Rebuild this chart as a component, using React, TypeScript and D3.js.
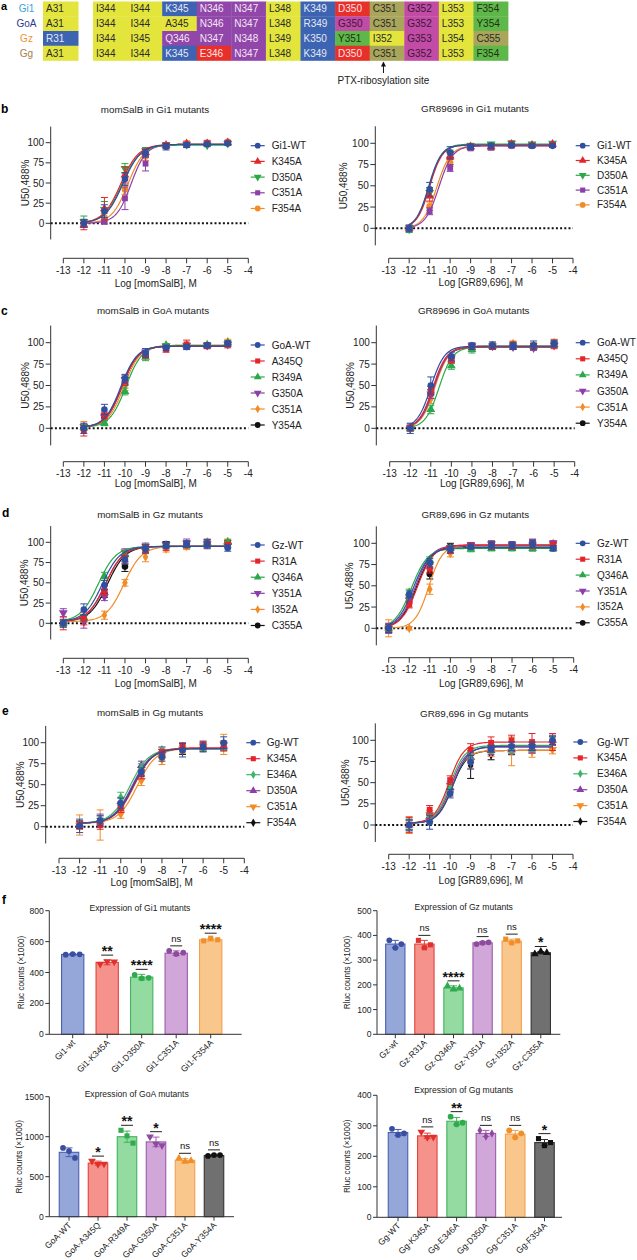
import React from 'react';
import * as d3 from 'd3';

const FONT = '"Liberation Sans", Arial, Helvetica, sans-serif';

// ---------------- Panel a: sequence alignment ----------------
const alignLabels = ['Gi1', 'GoA', 'Gz', 'Gg'];
const alignSite31 = ['A31', 'A31', 'R31', 'A31'];
const alignGi1 = ['I344', 'I344', 'K345', 'N346', 'N347', 'L348', 'K349', 'D350', 'C351', 'G352', 'L353', 'F354'];
const alignGoA = ['I344', 'I344', 'A345', 'N346', 'N347', 'L348', 'R349', 'G350', 'C351', 'G352', 'L353', 'Y354'];
const alignGz = ['I344', 'I345', 'Q346', 'N347', 'N348', 'L349', 'K350', 'Y351', 'I352', 'G353', 'L354', 'C355'];
const alignGg = ['I344', 'I344', 'K345', 'E346', 'N347', 'L348', 'K349', 'D350', 'C351', 'G352', 'L353', 'F354'];
const ptxColumn = 8;

// ---------------- Dose–response data ----------------
const dose8 = [-12, -11, -10, -9, -8, -7, -6, -5];
const dose9 = [-13, -12, -11, -10, -9, -8, -7, -6, -5];
const doseTicks = [-13, -12, -11, -10, -9, -8, -7, -6, -5, -4];
const pctTicks = [0, 25, 50, 75, 100];

// b left: momSalB in Gi1
const gi1Names = ['Gi1-WT', 'K345A', 'D350A', 'C351A', 'F354A'];
const bL_vals = [
  [0, 15, 55, 87, 95, 97, 98, 99],
  [-2, 18, 60, 88, 97, 99, 99, 100],
  [2, 17, 68, 90, 97, 98, 97, 99],
  [0, 2, 31, 74, 96, 97, 99, 100],
  [0, 7, 42, 83, 96, 98, 100, 101],
];
const bL_err = [
  [5, 8, 8, 5, 4, 3, 2, 2],
  [6, 14, 10, 4, 3, 3, 3, 2],
  [7, 10, 6, 4, 3, 2, 2, 2],
  [4, 3, 14, 9, 3, 2, 3, 2],
  [3, 5, 6, 5, 3, 2, 3, 2],
];
const bL_ec50 = [-10.1, -10.2, -10.15, -9.7, -9.85];
const bL_top = [98, 98, 97, 98, 98];
const bL_bottom = [0, 0, 0, 0, 0];
const bL_hill = [1.0, 1.0, 1.0, 1.2, 1.1];

// b right: GR89696 in Gi1
const bR_vals = [
  [0, 46, 89, 96, 97, 98, 97, 97],
  [0, 38, 85, 96, 96, 99, 98, 99],
  [-1, 42, 88, 97, 99, 100, 99, 100],
  [0, 20, 71, 94, 95, 97, 97, 98],
  [0, 26, 77, 95, 96, 97, 98, 98],
];
const bR_err = [
  [4, 8, 7, 3, 3, 2, 2, 2],
  [3, 6, 4, 3, 3, 3, 2, 2],
  [4, 6, 4, 3, 2, 3, 2, 2],
  [3, 4, 4, 2, 3, 2, 2, 2],
  [3, 5, 4, 2, 2, 2, 2, 2],
];
const bR_ec50 = [-11.05, -11.0, -11.02, -10.55, -10.65];
const bR_top = [98, 98, 99, 97, 97];
const bR_bottom = [0, 0, 0, 0, 0];
const bR_hill = [1.4, 1.4, 1.4, 1.3, 1.3];

// c: GoA
const goaNames = ['GoA-WT', 'A345Q', 'R349A', 'G350A', 'C351A', 'Y354A'];
const cL_vals = [
  [0, 22, 58, 88, 94, 95, 97, 99],
  [-3, 15, 55, 86, 92, 98, 96, 98],
  [1, 6, 43, 83, 97, 97, 97, 100],
  [2, 13, 57, 89, 96, 97, 97, 98],
  [3, 10, 49, 86, 97, 97, 98, 101],
  [1, 13, 55, 87, 95, 96, 96, 98],
];
const cL_err = [
  [6, 6, 5, 5, 3, 3, 3, 3],
  [6, 4, 5, 4, 3, 5, 3, 4],
  [3, 3, 4, 4, 2, 2, 2, 2],
  [3, 4, 5, 4, 2, 2, 2, 2],
  [5, 4, 5, 4, 2, 2, 2, 3],
  [3, 4, 4, 3, 2, 2, 2, 2],
];
const cL_ec50 = [-10.2, -10.15, -9.95, -10.15, -10.05, -10.15];
const cL_top = [96, 96, 97, 96, 97, 96];
const cL_bottom = [1, 1, 1, 1, 1, 1];
const cL_hill = [1.1, 1.1, 1.1, 1.1, 1.1, 1.1];

const cR_vals = [
  [0, 50, 84, 96, 97, 96, 97, 99],
  [1, 44, 80, 95, 95, 97, 96, 98],
  [0, 22, 73, 92, 96, 97, 96, 98],
  [0, 40, 82, 96, 96, 95, 94, 97],
  [0, 34, 80, 96, 97, 99, 97, 100],
  [0, 40, 82, 95, 96, 96, 96, 98],
];
const cR_err = [
  [6, 10, 5, 4, 4, 4, 5, 4],
  [4, 5, 4, 3, 3, 4, 3, 5],
  [3, 5, 4, 4, 3, 3, 3, 3],
  [3, 5, 4, 3, 3, 3, 3, 3],
  [3, 5, 4, 3, 3, 3, 3, 4],
  [3, 5, 4, 3, 3, 3, 3, 3],
];
const cR_ec50 = [-11.0, -10.9, -10.6, -10.85, -10.8, -10.85];
const cR_top = [96, 95, 95, 95, 96, 95];
const cR_bottom = [0, 0, 0, 0, 0, 0];
const cR_hill = [1.3, 1.3, 1.3, 1.3, 1.3, 1.3];

// d: Gz
const gzNames = ['Gz-WT', 'R31A', 'Q346A', 'Y351A', 'I352A', 'C355A'];
const dL_vals = [
  [0, 17, 47, 78, 92, 96, 98, 98, 93],
  [0, 6, 40, 79, 91, 95, 97, 99, 97],
  [0, 7, 58, 85, 94, 96, 96, 100, 100],
  [13, 2, 33, 88, 95, 97, 99, 98, 96],
  [0, 5, 10, 50, 82, 92, 95, 97, 101],
  [0, 6, 37, 70, 92, 98, 98, 97, 100],
];
const dL_err = [
  [5, 7, 6, 5, 5, 4, 4, 5, 4],
  [8, 8, 6, 5, 5, 5, 4, 4, 3],
  [4, 4, 5, 4, 3, 3, 3, 3, 3],
  [5, 8, 5, 4, 4, 3, 5, 6, 3],
  [4, 4, 5, 4, 6, 4, 4, 4, 3],
  [3, 4, 5, 6, 4, 3, 3, 3, 2],
];
const dL_ec50 = [-11.1, -10.95, -11.3, -10.95, -10.05, -10.85];
const dL_top = [95, 95, 95, 95, 95, 95];
const dL_bottom = [2, 2, 2, 2, 2, 2];
const dL_hill = [1.0, 1.0, 1.0, 1.0, 1.0, 1.0];

const dR_vals = [
  [0, 40, 77, 93, 96, 98, 98, 99, 94],
  [0, 28, 70, 92, 97, 98, 97, 98, 98],
  [0, 42, 80, 94, 93, 94, 94, 94, 94],
  [0, 33, 75, 95, 98, 99, 98, 98, 100],
  [0, 0, 46, 88, 96, 98, 96, 99, 100],
  [0, 35, 64, 96, 97, 97, 97, 100, 97],
];
const dR_err = [
  [5, 4, 5, 4, 3, 5, 4, 4, 3],
  [5, 4, 5, 4, 3, 4, 4, 4, 3],
  [4, 4, 4, 3, 3, 3, 3, 3, 3],
  [6, 4, 4, 3, 3, 3, 3, 7, 3],
  [10, 2, 6, 4, 3, 3, 3, 3, 3],
  [4, 4, 6, 4, 3, 3, 3, 4, 3],
];
const dR_ec50 = [-11.8, -11.6, -11.9, -11.7, -11.05, -11.65];
const dR_top = [95, 98, 94, 98, 98, 97];
const dR_bottom = [0, 0, 0, 0, 0, 0];
const dR_hill = [1.1, 1.1, 1.1, 1.1, 1.3, 1.1];

// e: Gg
const ggNames = ['Gg-WT', 'K345A', 'E346A', 'D350A', 'C351A', 'F354A'];
const eL_vals = [
  [1, 7, 28, 65, 83, 91, 95, 100],
  [2, 2, 22, 62, 88, 96, 97, 96],
  [3, 8, 35, 70, 90, 93, 95, 95],
  [3, 9, 30, 73, 91, 95, 96, 96],
  [2, 2, 15, 55, 80, 92, 95, 98],
  [2, 5, 24, 66, 88, 90, 94, 95],
];
const eL_err = [
  [8, 6, 6, 5, 5, 8, 6, 7],
  [5, 5, 5, 5, 4, 4, 5, 6],
  [4, 5, 6, 5, 4, 4, 4, 4],
  [4, 6, 5, 5, 4, 4, 4, 4],
  [12, 18, 5, 6, 6, 5, 4, 12],
  [4, 5, 5, 5, 4, 4, 4, 4],
];
const eL_ec50 = [-9.4, -9.35, -9.55, -9.45, -9.2, -9.4];
const eL_top = [93, 94, 93, 93, 93, 93];
const eL_bottom = [4, 4, 4, 4, 4, 4];
const eL_hill = [0.95, 0.95, 0.95, 0.95, 0.95, 0.95];

const eR_vals = [
  [0, 3, 37, 74, 90, 93, 93, 100],
  [0, 18, 53, 89, 97, 100, 98, 98],
  [0, 10, 46, 83, 90, 90, 92, 100],
  [0, 10, 44, 80, 88, 89, 90, 100],
  [0, 12, 40, 75, 86, 87, 87, 89],
  [0, 8, 44, 70, 83, 88, 90, 99],
];
const eR_err = [
  [7, 8, 5, 8, 4, 5, 5, 5],
  [9, 5, 5, 7, 7, 6, 10, 10],
  [6, 4, 5, 5, 5, 5, 5, 5],
  [6, 4, 5, 6, 5, 5, 5, 6],
  [10, 5, 6, 8, 5, 17, 7, 5],
  [5, 4, 5, 15, 6, 5, 5, 5],
];
const eR_ec50 = [-9.85, -10.05, -10.0, -9.95, -9.95, -9.9];
const eR_top = [93, 98, 94, 92, 88, 88];
const eR_bottom = [2, 2, 2, 2, 2, 2];
const eR_hill = [1.2, 1.2, 1.2, 1.2, 1.2, 1.2];

// ---------------- Panel f: expression bars ----------------
const fGi1Names = ['Gi1-wt', 'Gi1-K345A', 'Gi1-D350A', 'Gi1-C351A', 'Gi1-F354A'];
const fGi1Means = [517, 465, 370, 525, 612];
const fGi1Sd = [5, 15, 18, 15, 9];
const fGi1Pts = [[515, 519, 518], [455, 472, 470], [385, 362, 366], [540, 520, 528], [605, 622, 612]];
const fGi1Sig = ['', '**', '****', 'ns', '****'];
const fGi1Ticks = [0, 200, 400, 600, 800];

const fGzNames = ['Gz-wt', 'Gz-R31A', 'Gz-Q346A', 'Gz-Y351A', 'Gz-I352A', 'Gz-C355A'];
const fGzMeans = [365, 365, 188, 370, 377, 330];
const fGzSd = [15, 15, 8, 5, 8, 5];
const fGzPts = [[380, 350, 365], [380, 350, 362], [195, 182, 186], [365, 370, 372], [385, 370, 378], [325, 335, 330]];
const fGzSig = ['', 'ns', '****', 'ns', 'ns', '*'];
const fGzTicks = [0, 100, 200, 300, 400, 500];

const fGoANames = ['GoA-WT', 'GoA-A345Q', 'GoA-R349A', 'GoA-G350A', 'GoA-C351A', 'GoA-Y354A'];
const fGoAMeans = [805, 670, 1000, 935, 705, 765];
const fGoASd = [55, 25, 70, 60, 20, 8];
const fGoAPts = [[860, 820, 735], [695, 655, 660], [1080, 1010, 920], [1000, 910, 890], [730, 690, 700], [760, 770, 770]];
const fGoASig = ['', '*', '**', '*', 'ns', 'ns'];
const fGoATicks = [0, 500, 1000, 1500];

const fGgNames = ['Gg-WT', 'Gg-K345A', 'Gg-E346A', 'Gg-D350A', 'Gg-C351A', 'Gg-F354A'];
const fGgMeans = [278, 267, 315, 275, 273, 245];
const fGgSd = [10, 9, 12, 10, 12, 10];
const fGgPts = [[290, 270, 275], [280, 262, 263], [330, 305, 310], [285, 265, 275], [285, 262, 275], [258, 235, 245]];
const fGgSig = ['', 'ns', '**', 'ns', 'ns', '*'];
const fGgTicks = [0, 100, 200, 300, 400];

// ---------------- Styles ----------------
const SERIES_COLORS = ['#2f4fa0', '#e4262b', '#2aa84a', '#8b3fa8', '#f28c28', '#111111'];
const B_COLORS = ['#2f4fa0', '#e4262b', '#2aa84a', '#8b3fa8', '#f28c28'];
const E_COLORS = ['#2f4fa0', '#e4262b', '#3cb56a', '#8b3fa8', '#f28c28', '#111111'];
const B_SHAPES = ['circle', 'triUp', 'triDown', 'square', 'circle'];
const CD_SHAPES = ['circle', 'square', 'triUp', 'triDown', 'diamond', 'circle'];
const E_SHAPES = ['circle', 'square', 'diamond', 'triUp', 'triDown', 'diamond'];

const BAR_FILL = ['#95a6d8', '#f5928c', '#93dba0', '#d1a6d9', '#f9c78c', '#707070'];
const BAR_STROKE = ['#4a5fae', '#e0443e', '#43b25e', '#9c5aab', '#f2a04d', '#333333'];
const BAR_POINT = ['#3a4ea3', '#e0312d', '#2faa4d', '#8e4a9e', '#f08f2a', '#111111'];

const CELL_FILL: any = { hyd: '#e3e53d', pos: '#3d64b2', amide: '#9147a9', neg: '#e8302b', cys: '#a9a65c', gly: '#c24ba6', aro: '#5db849' };
const CELL_TEXT: any = { hyd: '#2a2a2a', pos: '#e4e8f4', amide: '#f3e6f5', neg: '#fde3e3', cys: '#2a2a2a', gly: '#3c1736', aro: '#1f2f14' };
const ROW_LABEL_COLORS = ['#3aa3d6', '#2b3990', '#f0923a', '#a57c52'];

const resClass = (r: string) => {
  const c = r[0];
  if ('AIL'.includes(c)) return 'hyd';
  if ('KR'.includes(c)) return 'pos';
  if ('NQ'.includes(c)) return 'amide';
  if ('DE'.includes(c)) return 'neg';
  if (c === 'C') return 'cys';
  if (c === 'G') return 'gly';
  return 'aro';
};

function symPath(shape: string, size: number) {
  const t = shape === 'circle' ? d3.symbolCircle : shape === 'square' ? d3.symbolSquare : shape === 'diamond' ? d3.symbolDiamond : d3.symbolTriangle;
  return d3.symbol().type(t).size(shape === 'diamond' ? size * 0.8 : size)() as string;
}
function Marker({ shape, x, y, color, size = 36 }: any) {
  const rot = shape === 'triDown' ? ' rotate(180)' : '';
  return <path d={symPath(shape, size)} transform={`translate(${x},${y})${rot}`} fill={color} />;
}

// ---------------- Layouts ----------------
const DL: any = {
  bL: { ax: 50.7, y0: 223.3, y100: 142.7, xAxisY: 258.3, x13: 63.3, x4: 248.3, titleX: 155, titleY: 109, xLabelY: 283.3, yLabelX: 25, legX: 257.7, legTX: 271.7, legY0: 145.7, legDy: 15.7 },
  bR: { ax: 375.3, y0: 228.3, y100: 143.3, xAxisY: 258.3, x13: 388.7, x4: 573, titleX: 475, titleY: 108.3, xLabelY: 282.7, yLabelX: 343.7, legX: 582.7, legTX: 597, legY0: 145.7, legDy: 14.8 },
  cL: { ax: 50.7, y0: 428.3, y100: 342.7, xAxisY: 461.7, x13: 63.3, x4: 248.3, titleX: 153, titleY: 310.7, xLabelY: 483.3, yLabelX: 25, legX: 257.7, legTX: 271.7, legY0: 345, legDy: 16 },
  cR: { ax: 376.3, y0: 428.3, y100: 342.7, xAxisY: 461.7, x13: 389.7, x4: 574.7, titleX: 473.7, titleY: 310.7, xLabelY: 483.3, yLabelX: 350.3, legX: 582.7, legTX: 597, legY0: 342.7, legDy: 16.1 },
  dL: { ax: 50.7, y0: 623.3, y100: 542.3, xAxisY: 658.3, x13: 63.3, x4: 248.3, titleX: 150, titleY: 514.3, xLabelY: 683.3, yLabelX: 24, legX: 257.7, legTX: 271.7, legY0: 545, legDy: 16.1 },
  dR: { ax: 376.3, y0: 628.3, y100: 543.3, xAxisY: 657.7, x13: 388.7, x4: 573.7, titleX: 475.3, titleY: 514.3, xLabelY: 683.3, yLabelX: 349.7, legX: 582.7, legTX: 597, legY0: 543.3, legDy: 15.9 },
  eL: { ax: 45.7, y0: 826.7, y100: 742.7, xAxisY: 858.3, x13: 59, x4: 244.3, titleX: 150, titleY: 712.3, xLabelY: 882.3, yLabelX: 20.7, legX: 253.3, legTX: 266.7, legY0: 742.7, legDy: 16 },
  eR: { ax: 375.3, y0: 825, y100: 740.3, xAxisY: 854.3, x13: 388.7, x4: 573, titleX: 474.3, titleY: 713.3, xLabelY: 880, yLabelX: 345.3, legX: 580.3, legTX: 597, legY0: 742, legDy: 15.9 },
};

const BL: any = {
  gi1: { ax: 49.3, y0: 1034.3, yTop: 910.7, axEnd: 241.7, bx0: 72.7, bdx: 34.5, bw: 22.3, titleX: 140, titleY: 908.3, yLabelX: 21.7, jitter: 7 },
  gz: { ax: 377, y0: 1034.3, yTop: 910.7, axEnd: 560.3, bx0: 395.3, bdx: 29.1, bw: 19.3, titleX: 463.7, titleY: 907.3, yLabelX: 347.7, jitter: 6 },
  goa: { ax: 49.3, y0: 1216.7, yTop: 1096.7, axEnd: 234, bx0: 69, bdx: 29, bw: 19.5, titleX: 136.7, titleY: 1094, yLabelX: 19, jitter: 6 },
  gg: { ax: 377, y0: 1217.3, yTop: 1095.3, axEnd: 562, bx0: 398, bdx: 29.3, bw: 19.5, titleX: 463.7, titleY: 1090, yLabelX: 347.7, jitter: 6 },
};

const hillFn = (x: number, b: number, t: number, e: number, h: number) => b + (t - b) / (1 + Math.pow(10, (e - x) * h));

function DoseChart({ L, title, xLabel, names, xs, vals, errs, ec50, top, bottom, hill, colors, shapes }: any) {
  const x = d3.scaleLinear().domain([-13, -4]).range([L.x13, L.x4]);
  const y = d3.scaleLinear().domain([0, 100]).range([L.y0, L.y100]);
  const line = d3.line<[number, number]>().x((d) => x(d[0])).y((d) => y(d[1]));
  const xsFine = d3.range(xs[0], xs[xs.length - 1] + 1e-9, 0.04);
  const order = d3.range(names.length).reverse();
  return (
    <g fontFamily={FONT}>
      <text x={L.titleX} y={L.titleY} fontSize={9.8} textAnchor="middle" dominantBaseline="central" fill="#222">{title}</text>
      {/* y axis */}
      <line x1={L.ax} x2={L.ax} y1={y(-20)} y2={y(120)} stroke="#333" strokeWidth={1} />
      {pctTicks.map((t) => (
        <g key={t}>
          <line x1={L.ax - 5} x2={L.ax} y1={y(t)} y2={y(t)} stroke="#333" strokeWidth={1} />
          <text x={L.ax - 6.5} y={y(t)} fontSize={10} textAnchor="end" dominantBaseline="central" fill="#222">{t}</text>
        </g>
      ))}
      <text transform={`translate(${L.yLabelX},${y(50)}) rotate(-90)`} fontSize={10} textAnchor="middle" dominantBaseline="central" fill="#222">U50,488%</text>
      {/* x axis (offset) */}
      <line x1={x(-13)} x2={x(-4)} y1={L.xAxisY} y2={L.xAxisY} stroke="#333" strokeWidth={1} />
      {doseTicks.map((t) => (
        <g key={t}>
          <line x1={x(t)} x2={x(t)} y1={L.xAxisY} y2={L.xAxisY + 5} stroke="#333" strokeWidth={1} />
          <text x={x(t)} y={L.xAxisY + 12} fontSize={10} textAnchor="middle" dominantBaseline="central" fill="#222">{t}</text>
        </g>
      ))}
      <text x={(x(-13) + x(-4)) / 2} y={L.xLabelY} fontSize={10} textAnchor="middle" dominantBaseline="central" fill="#222">{xLabel}</text>
      {/* baseline */}
      <line x1={L.ax} x2={x(-4)} y1={y(0)} y2={y(0)} stroke="#111" strokeWidth={2} strokeDasharray="2,2.2" />
      {order.map((i: number) => {
        const pts = xsFine.map((v) => [v, hillFn(v, bottom[i], top[i], ec50[i], hill[i])] as [number, number]);
        return (
          <g key={i}>
            <path d={line(pts) as string} fill="none" stroke={colors[i]} strokeWidth={1.2} />
            {xs.map((xv: number, j: number) => {
              const v = vals[i][j];
              const e = errs[i][j];
              return (
                <g key={j}>
                  <line x1={x(xv)} x2={x(xv)} y1={y(v - e)} y2={y(v + e)} stroke={colors[i]} strokeWidth={1} />
                  <line x1={x(xv) - 3.5} x2={x(xv) + 3.5} y1={y(v + e)} y2={y(v + e)} stroke={colors[i]} strokeWidth={1} />
                  <line x1={x(xv) - 3.5} x2={x(xv) + 3.5} y1={y(v - e)} y2={y(v - e)} stroke={colors[i]} strokeWidth={1} />
                  <Marker shape={shapes[i]} x={x(xv)} y={y(v)} color={colors[i]} size={34} />
                </g>
              );
            })}
          </g>
        );
      })}
      {/* legend */}
      {names.map((n: string, i: number) => {
        const ly = L.legY0 + i * L.legDy;
        return (
          <g key={n}>
            <line x1={L.legX - 7} x2={L.legX + 7} y1={ly} y2={ly} stroke={colors[i]} strokeWidth={1.2} />
            <Marker shape={shapes[i]} x={L.legX} y={ly} color={colors[i]} size={26} />
            <text x={L.legTX} y={ly} fontSize={10} dominantBaseline="central" fill="#222">{n}</text>
          </g>
        );
      })}
    </g>
  );
}

const BAR_SHAPES: any = {
  gi1: ['circle', 'triDown', 'circle', 'circle', 'square'],
  gz: ['circle', 'square', 'triUp', 'circle', 'square', 'triUp'],
  goa: ['circle', 'triDown', 'square', 'triDown', 'triUp', 'circle'],
  gg: ['circle', 'triDown', 'circle', 'diamond', 'circle', 'square'],
};

function BarChart({ L, title, names, means, sds, pts, sigs, ticks, shapes, colorIdx }: any) {
  const n = names.length;
  const y = d3.scaleLinear().domain([0, ticks[ticks.length - 1]]).range([L.y0, L.yTop]);
  const xb = d3.scaleBand<number>().domain(d3.range(n)).range([L.bx0 - L.bdx / 2, L.bx0 + (n - 0.5) * L.bdx]).paddingInner(1 - L.bw / L.bdx).paddingOuter((1 - L.bw / L.bdx) / 2);
  const cx = (i: number) => (xb(i) as number) + xb.bandwidth() / 2;
  return (
    <g fontFamily={FONT}>
      <text x={L.titleX} y={L.titleY} fontSize={8.6} textAnchor="middle" dominantBaseline="central" fill="#222">{title}</text>
      <line x1={L.ax} x2={L.ax} y1={L.y0} y2={y(ticks[ticks.length - 1])} stroke="#333" strokeWidth={1} />
      {ticks.map((t: number) => (
        <g key={t}>
          <line x1={L.ax - 4} x2={L.ax} y1={y(t)} y2={y(t)} stroke="#333" strokeWidth={1} />
          <text x={L.ax - 5.5} y={y(t)} fontSize={8.6} textAnchor="end" dominantBaseline="central" fill="#222">{t}</text>
        </g>
      ))}
      <text transform={`translate(${L.yLabelX},${(L.y0 + L.yTop) / 2}) rotate(-90)`} fontSize={8.2} textAnchor="middle" dominantBaseline="central" fill="#222">Rluc counts (×1000)</text>
      {names.map((nm: string, i: number) => {
        const c = colorIdx[i];
        const bx = xb(i) as number;
        const hi = Math.max(d3.max(pts[i]) as number, means[i] + sds[i]);
        const lineY = y(hi) - 5;
        const isStar = sigs[i].startsWith('*');
        return (
          <g key={nm}>
            <rect x={bx} y={y(means[i])} width={xb.bandwidth()} height={L.y0 - y(means[i])} fill={BAR_FILL[c]} stroke={BAR_STROKE[c]} strokeWidth={1.1} />
            <line x1={cx(i)} x2={cx(i)} y1={y(means[i] - sds[i])} y2={y(means[i] + sds[i])} stroke={BAR_STROKE[c]} strokeWidth={1} />
            <line x1={cx(i) - 3.5} x2={cx(i) + 3.5} y1={y(means[i] + sds[i])} y2={y(means[i] + sds[i])} stroke={BAR_STROKE[c]} strokeWidth={1} />
            <line x1={cx(i) - 3.5} x2={cx(i) + 3.5} y1={y(means[i] - sds[i])} y2={y(means[i] - sds[i])} stroke={BAR_STROKE[c]} strokeWidth={1} />
            {pts[i].map((p: number, k: number) => (
              <Marker key={k} shape={shapes[i]} x={cx(i) + (k - 1) * L.jitter} y={y(p)} color={BAR_POINT[c]} size={26} />
            ))}
            <line x1={cx(i)} x2={cx(i)} y1={L.y0} y2={L.y0 + 4} stroke="#333" strokeWidth={1} />
            <text transform={`translate(${cx(i) + 3},${L.y0 + 9}) rotate(-45)`} fontSize={8.6} textAnchor="end" fill="#222">{nm}</text>
            {sigs[i] && (
              <g>
                <line x1={cx(i) - 6} x2={cx(i) + 6} y1={lineY} y2={lineY} stroke="#222" strokeWidth={1} />
                <text x={cx(i)} y={isStar ? lineY + 1 : lineY - 4} fontSize={isStar ? 14 : 9.5} fontWeight={isStar ? 'bold' : 'normal'} textAnchor="middle" fill="#111">{sigs[i]}</text>
              </g>
            )}
          </g>
        );
      })}
      <line x1={L.ax} x2={L.axEnd} y1={L.y0} y2={L.y0} stroke="#333" strokeWidth={1} />
    </g>
  );
}

function Alignment() {
  const rows = [alignGi1, alignGoA, alignGz, alignGg];
  const colX = d3.scaleBand<number>().domain(d3.range(12)).range([93, 508]);
  const rowY = d3.scaleBand<number>().domain(d3.range(4)).range([1.5, 60.5]);
  const h = rowY.bandwidth();
  const arrowX = (colX(ptxColumn) as number) + colX.bandwidth() / 2 - 3.5;
  return (
    <g fontFamily={FONT}>
      <text x={1} y={6} fontSize={11} fontWeight="bold" dominantBaseline="central">a</text>
      {alignLabels.map((lab, r) => {
        const yy = rowY(r) as number;
        const c31 = resClass(alignSite31[r]);
        return (
          <g key={lab}>
            <text x={26.5} y={yy + h / 2} fontSize={10} textAnchor="middle" dominantBaseline="central" fill={ROW_LABEL_COLORS[r]}>{lab}</text>
            <rect x={43} y={yy} width={35.5} height={h + 0.3} fill={CELL_FILL[c31]} />
            <text x={46} y={yy + h / 2} fontSize={10} dominantBaseline="central" fill={CELL_TEXT[c31]}>{alignSite31[r]}</text>
            {rows[r].map((res, ci) => {
              const cl = resClass(res);
              const xx = colX(ci) as number;
              return (
                <g key={ci}>
                  <rect x={xx} y={yy} width={colX.bandwidth() + 0.4} height={h + 0.3} fill={CELL_FILL[cl]} />
                  <text x={xx + 3} y={yy + h / 2} fontSize={10} dominantBaseline="central" fill={CELL_TEXT[cl]}>{res}</text>
                </g>
              );
            })}
          </g>
        );
      })}
      <line x1={arrowX} x2={arrowX} y1={73} y2={64} stroke="#111" strokeWidth={1} />
      <path d={`M${arrowX - 2.5},${66.5} L${arrowX},${61.5} L${arrowX + 2.5},${66.5} Z`} fill="#111" />
      <text x={arrowX} y={80.5} fontSize={10} textAnchor="middle" dominantBaseline="central" fill="#222">PTX-ribosylation site</text>
    </g>
  );
}

export default function App() {
  const letters = [
    { t: 'b', x: 1, y: 109 },
    { t: 'c', x: 1, y: 310.7 },
    { t: 'd', x: 2, y: 513.3 },
    { t: 'e', x: 2, y: 710.7 },
    { t: 'f', x: 2, y: 900 },
  ];
  return (
    <svg width={637} height={1260} viewBox="0 0 637 1260" style={{ position: 'absolute', left: 0, top: 0, background: '#fff' }}>
      <rect x={0} y={0} width={637} height={1260} fill="#fff" />
      <Alignment />
      {letters.map((l) => (
        <text key={l.t} x={l.x} y={l.y} fontFamily={FONT} fontSize={12} fontWeight="bold" dominantBaseline="central">{l.t}</text>
      ))}
      <DoseChart L={DL.bL} title="momSalB in Gi1 mutants" xLabel="Log [momSalB], M" names={gi1Names} xs={dose8} vals={bL_vals} errs={bL_err} ec50={bL_ec50} top={bL_top} bottom={bL_bottom} hill={bL_hill} colors={B_COLORS} shapes={B_SHAPES} />
      <DoseChart L={DL.bR} title="GR89696 in Gi1 mutants" xLabel="Log [GR89,696], M" names={gi1Names} xs={dose8} vals={bR_vals} errs={bR_err} ec50={bR_ec50} top={bR_top} bottom={bR_bottom} hill={bR_hill} colors={B_COLORS} shapes={B_SHAPES} />
      <DoseChart L={DL.cL} title="momSalB in GoA mutants" xLabel="Log [momSalB], M" names={goaNames} xs={dose8} vals={cL_vals} errs={cL_err} ec50={cL_ec50} top={cL_top} bottom={cL_bottom} hill={cL_hill} colors={SERIES_COLORS} shapes={CD_SHAPES} />
      <DoseChart L={DL.cR} title="GR89696 in GoA mutants" xLabel="Log [GR89,696], M" names={goaNames} xs={dose8} vals={cR_vals} errs={cR_err} ec50={cR_ec50} top={cR_top} bottom={cR_bottom} hill={cR_hill} colors={SERIES_COLORS} shapes={CD_SHAPES} />
      <DoseChart L={DL.dL} title="momSalB in Gz mutants" xLabel="Log [momSalB], M" names={gzNames} xs={dose9} vals={dL_vals} errs={dL_err} ec50={dL_ec50} top={dL_top} bottom={dL_bottom} hill={dL_hill} colors={SERIES_COLORS} shapes={CD_SHAPES} />
      <DoseChart L={DL.dR} title="GR89,696 in Gz mutants" xLabel="Log [GR89,696], M" names={gzNames} xs={dose9} vals={dR_vals} errs={dR_err} ec50={dR_ec50} top={dR_top} bottom={dR_bottom} hill={dR_hill} colors={SERIES_COLORS} shapes={CD_SHAPES} />
      <DoseChart L={DL.eL} title="momSalB in Gg mutants" xLabel="Log [momSalB], M" names={ggNames} xs={dose8} vals={eL_vals} errs={eL_err} ec50={eL_ec50} top={eL_top} bottom={eL_bottom} hill={eL_hill} colors={E_COLORS} shapes={E_SHAPES} />
      <DoseChart L={DL.eR} title="GR89,696 in Gg mutants" xLabel="Log [GR89,696], M" names={ggNames} xs={dose8} vals={eR_vals} errs={eR_err} ec50={eR_ec50} top={eR_top} bottom={eR_bottom} hill={eR_hill} colors={E_COLORS} shapes={E_SHAPES} />
      <BarChart L={BL.gi1} title="Expression of Gi1 mutants" names={fGi1Names} means={fGi1Means} sds={fGi1Sd} pts={fGi1Pts} sigs={fGi1Sig} ticks={fGi1Ticks} shapes={BAR_SHAPES.gi1} colorIdx={[0, 1, 2, 3, 4]} />
      <BarChart L={BL.gz} title="Expression of Gz mutants" names={fGzNames} means={fGzMeans} sds={fGzSd} pts={fGzPts} sigs={fGzSig} ticks={fGzTicks} shapes={BAR_SHAPES.gz} colorIdx={[0, 1, 2, 3, 4, 5]} />
      <BarChart L={BL.goa} title="Expression of GoA mutants" names={fGoANames} means={fGoAMeans} sds={fGoASd} pts={fGoAPts} sigs={fGoASig} ticks={fGoATicks} shapes={BAR_SHAPES.goa} colorIdx={[0, 1, 2, 3, 4, 5]} />
      <BarChart L={BL.gg} title="Expression of Gg mutants" names={fGgNames} means={fGgMeans} sds={fGgSd} pts={fGgPts} sigs={fGgSig} ticks={fGgTicks} shapes={BAR_SHAPES.gg} colorIdx={[0, 1, 2, 3, 4, 5]} />
    </svg>
  );
}
